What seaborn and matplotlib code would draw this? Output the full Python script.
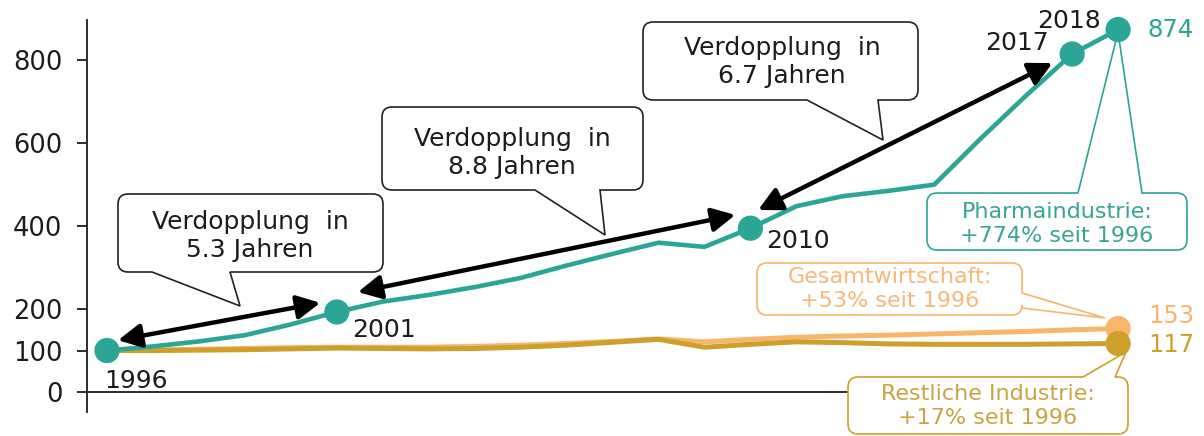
import numpy as np
import pandas as pd
import matplotlib
matplotlib.use("Agg")
import matplotlib.pyplot as plt
import seaborn as sns
from matplotlib.path import Path
from matplotlib.patches import PathPatch

# ---------------- data ----------------
years = list(range(1996, 2019))
pharma = [100, 110, 122, 137, 163, 193, 218, 234, 253, 275, 305, 333, 360, 350,
          395, 448, 472, 485, 500, 610, 715, 815, 874]
gesamt = [100, 101, 103, 105, 107, 108, 108, 108, 110, 113, 117, 122, 128, 121,
          127, 132, 135, 137, 140, 143, 146, 150, 153]
restl = [100, 100, 101, 102, 104, 106, 105, 104, 105, 108, 113, 120, 127, 108,
         115, 121, 119, 116, 115, 115, 115, 116, 117]
series_names = ["Gesamtwirtschaft", "Restliche Industrie", "Pharmaindustrie"]
highlight_years = [1996, 2001, 2010, 2017, 2018]
y_ticks = [0, 100, 200, 400, 600, 800]
doubling_texts = ["Verdopplung  in\n5.3 Jahren", "Verdopplung  in\n8.8 Jahren",
                  "Verdopplung  in\n6.7 Jahren"]
box_texts = ["Pharmaindustrie:\n+774% seit 1996", "Gesamtwirtschaft:\n+53% seit 1996",
             "Restliche Industrie:\n+17% seit 1996"]

TEAL = "#2BA595"
LIGHT = "#F8B66C"
GOLD = "#CCA02A"
TXT = "#1c1c1c"

df = pd.DataFrame({
    "Jahr": years * 3,
    "Index": gesamt + restl + pharma,
    "Reihe": [series_names[0]] * len(years) + [series_names[1]] * len(years)
             + [series_names[2]] * len(years),
})
palette = {series_names[0]: LIGHT, series_names[1]: GOLD, series_names[2]: TEAL}

sns.set_style("white")
plt.rcParams["font.family"] = ["DejaVu Sans"]

W, H = 1204, 436
fig = plt.figure(figsize=(W / 100, H / 100), dpi=100)
ax = fig.add_axes([87 / W, 1 - 412 / H, (1125 - 87) / W, (412 - 20) / H])

for name, lw, z in [(series_names[0], 3.6, 2), (series_names[1], 3.6, 3), (series_names[2], 3.3, 4)]:
    sns.lineplot(data=df[df["Reihe"] == name], x="Jahr", y="Index", color=palette[name],
                 linewidth=lw, ax=ax, legend=False, zorder=z, clip_on=False)

hl = df[(df["Reihe"] == series_names[2]) & (df["Jahr"].isin(highlight_years))]
sns.scatterplot(data=hl, x="Jahr", y="Index", color=TEAL, s=330, edgecolor="none",
                ax=ax, zorder=6, legend=False, clip_on=False)
ends = df[(df["Reihe"] != series_names[2]) & (df["Jahr"] == years[-1])]
sns.scatterplot(data=ends, x="Jahr", y="Index", hue="Reihe", palette=palette, s=330,
                edgecolor="none", ax=ax, zorder=6, legend=False, clip_on=False)

ax.set_xlim(1995.565, 2018.15)
ax.set_ylim(-48.2, 897)
ax.set_yticks(y_ticks)
ax.set_xticks([])
ax.set_xlabel("")
ax.set_ylabel("")
for s in ["top", "right"]:
    ax.spines[s].set_visible(False)
ax.spines["left"].set_color(TXT)
ax.spines["left"].set_linewidth(1.3)
ax.spines["bottom"].set_position(("data", 0))
ax.spines["bottom"].set_color(TXT)
ax.spines["bottom"].set_linewidth(1.3)
ax.tick_params(axis="y", length=7.2, width=1.3, color=TXT, labelsize=18.5,
               labelcolor=TXT, pad=10.5, left=True)
ax.patch.set_alpha(0)

# year labels at highlighted points (offsets in points)
year_offsets = {1996: (21, -22), 2001: (34, -13), 2010: (34, -9), 2017: (-40, 8), 2018: (-35, 6)}
for yr in highlight_years:
    v = pharma[years.index(yr)]
    ax.annotate(str(yr), xy=(yr, v), xytext=year_offsets[yr], textcoords="offset points",
                ha="center", va="center", fontsize=18, color=TXT, zorder=7)

# end values
for vals, col, off in [(pharma, TEAL, (21, 0)), (gesamt, LIGHT, (22, 9)), (restl, GOLD, (22, -1))]:
    ax.annotate(f"{vals[-1]}", xy=(years[-1], vals[-1]), xytext=off, textcoords="offset points",
                ha="left", va="center", fontsize=17.5, color=col, annotation_clip=False)

# doubling arrows (data coordinates)
arrow_pts = [((1996.24, 125), (2000.64, 215)),
             ((2001.46, 241), (2009.67, 427)),
             ((2010.17, 439), (2016.57, 793))]
for a, b in arrow_pts:
    ax.annotate("", xy=b, xytext=a,
                arrowprops=dict(arrowstyle="<|-|>,head_length=0.7,head_width=0.36",
                                mutation_scale=20, lw=3.2, color="black",
                                shrinkA=0, shrinkB=0), zorder=5)

# overlay in pixel coordinates for callout bubbles
ov = fig.add_axes([0, 0, 1, 1], zorder=5)
ov.set_xlim(0, W)
ov.set_ylim(H, 0)
ov.axis("off")
ov.patch.set_alpha(0)


def bubble(x0, y0, x1, y1, r, tail=None):
    verts, codes = [], []
    side, b1, b2, tip = tail if tail else (None, 0, 0, (0, 0))

    def mv(p):
        verts.append(p); codes.append(Path.MOVETO)

    def ln(p):
        verts.append(p); codes.append(Path.LINETO)

    def cv(c, p):
        verts.extend([c, p]); codes.extend([Path.CURVE3, Path.CURVE3])

    mv((x0 + r, y0))
    if side == "top":
        ln((b1, y0)); ln(tip); ln((b2, y0))
    ln((x1 - r, y0)); cv((x1, y0), (x1, y0 + r))
    if side == "right":
        ln((x1, b1)); ln(tip); ln((x1, b2))
    ln((x1, y1 - r)); cv((x1, y1), (x1 - r, y1))
    if side == "bottom":
        ln((b2, y1)); ln(tip); ln((b1, y1))
    ln((x0 + r, y1)); cv((x0, y1), (x0, y1 - r))
    ln((x0, y0 + r)); cv((x0, y0), (x0 + r, y0))
    verts.append((x0 + r, y0)); codes.append(Path.CLOSEPOLY)
    return Path(verts, codes)


callouts = [
    # box, tail, text center, text, edge color, text color, fontsize
    ((118, 194, 383, 272), ("bottom", 152, 230, (240, 306)), (250, 236), doubling_texts[0], "#222222", TXT, 18),
    ((382, 107, 643, 190), ("bottom", 535, 600, (605, 235)), (512, 153), doubling_texts[1], "#222222", TXT, 18),
    ((643, 22, 918, 100), ("bottom", 807, 878, (883, 140)), (782, 62), doubling_texts[2], "#222222", TXT, 18),
    ((927, 193, 1187, 250), ("top", 1078, 1142, (1118, 32)), (1057, 224), box_texts[0], TEAL, "#37A496", 16),
    ((757, 263, 1022, 315), ("right", 293, 308, (1105, 318)), (890, 289), box_texts[1], LIGHT, "#F6B878", 16),
    ((848, 377, 1128, 434), ("top", 1083, 1115, (1126, 352)), (988, 406), box_texts[2], GOLD, "#C9A442", 16),
]
for (x0, y0, x1, y1), tail, (tx, ty), txt, ec, tc, fs in callouts:
    ov.add_patch(PathPatch(bubble(x0, y0, x1, y1, 10), facecolor="white",
                           edgecolor="none", zorder=1))
    ov.add_patch(PathPatch(bubble(x0, y0, x1, y1, 10, tail), facecolor="none",
                           edgecolor=ec, lw=1.2, zorder=2))
    ov.text(tx, ty, txt, ha="center", va="center", fontsize=fs, color=tc,
            linespacing=1.2, zorder=3)

fig.savefig("out.png", dpi=100)
